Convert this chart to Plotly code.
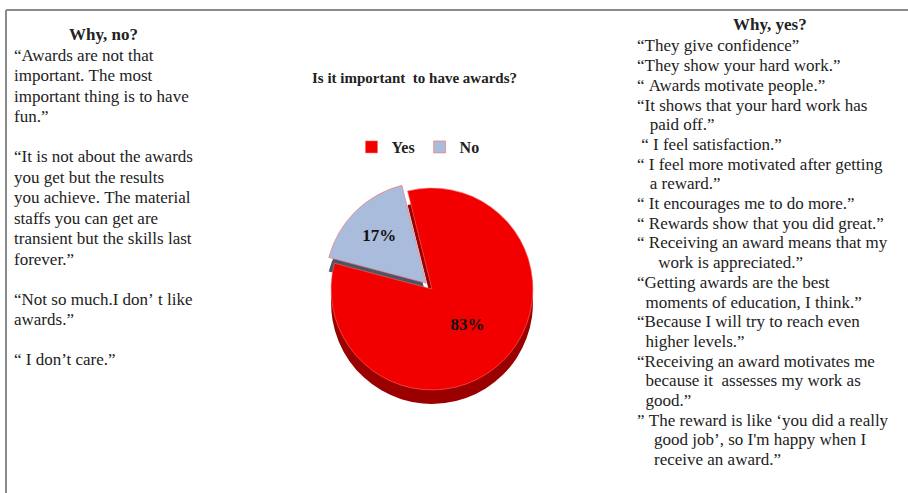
import plotly.graph_objects as go

W, H = 908, 493

# ---- data ----
categories = ["Yes", "No"]
values = [83, 17]
chart_title = "Is it important  to have awards?"

no_title = "Why, no?"
no_lines = [
    "\u201cAwards are not that",
    "important. The most",
    "important thing is to have",
    "fun.\u201d",
    "",
    "\u201cIt is not about the awards",
    "you get but the results",
    "you achieve. The material",
    "staffs you can get are",
    "transient but the skills last",
    "forever.\u201d",
    "",
    "\u201cNot so much.I don\u2019 t like",
    "awards.\u201d",
    "",
    "\u201c I don\u2019t care.\u201d",
]

yes_title = "Why, yes?"
yes_lines = [
    "\u201cThey give confidence\u201d",
    "\u201cThey show your hard work.\u201d",
    "\u201c Awards motivate people.\u201d",
    "\u201cIt shows that your hard work has",
    "   paid off.\u201d",
    " \u201c I feel satisfaction.\u201d",
    "\u201c I feel more motivated after getting",
    "   a reward.\u201d",
    "\u201c It encourages me to do more.\u201d",
    "\u201c Rewards show that you did great.\u201d",
    "\u201c Receiving an award means that my",
    "     work is appreciated.\u201d",
    "\u201cGetting awards are the best",
    "  moments of education, I think.\u201d",
    "\u201cBecause I will try to reach even",
    "  higher levels.\u201d",
    "\u201cReceiving an award motivates me",
    "  because it  assesses my work as",
    "  good.\u201d",
    "\u201d The reward is like \u2018you did a really",
    "    good job\u2019, so I'm happy when I",
    "    receive an award.\u201d",
]

SERIF = "Liberation Serif, Times New Roman, serif"
TXT = "#222222"


def px(x):
    return x / W


def py(y):
    return 1 - y / H


fig = go.Figure()

# depth layer (darker, offset) to suggest the 3-D pie
fig.add_trace(go.Pie(
    labels=categories, values=values, sort=False, direction="clockwise",
    rotation=-14, pull=[0, 0.08],
    marker=dict(colors=["#9A0000", "#4A5566"], line=dict(width=0)),
    textinfo="none", hoverinfo="skip", showlegend=False,
    domain=dict(x=[px(322), px(542)], y=[py(412), py(194)]),
))

# top surface
fig.add_trace(go.Pie(
    labels=categories, values=values, sort=False, direction="clockwise",
    rotation=-14, pull=[0, 0.08],
    marker=dict(colors=["#F20000", "#A9BCDB"], line=dict(width=0.6, color="#ff6a6a")),
    textinfo="percent", textposition="inside", insidetextorientation="horizontal",
    textfont=dict(family=SERIF, size=17, color="#111111", weight="bold"),
    hoverinfo="skip",
    domain=dict(x=[px(322), px(542)], y=[py(398), py(180)]),
))

ann = []
# chart title
ann.append(dict(text=chart_title, x=px(414), y=py(78), xref="paper", yref="paper",
                showarrow=False, xanchor="center", yanchor="middle",
                font=dict(family=SERIF, size=15, color=TXT, weight="bold")))

# left column
ann.append(dict(text=no_title, x=px(103), y=py(34), xref="paper", yref="paper",
                showarrow=False, xanchor="center", yanchor="middle",
                font=dict(family=SERIF, size=17, color=TXT, weight="bold")))
y = 55
for line in no_lines:
    if line:
        ann.append(dict(text=line.replace(" ", "\u00a0"), x=px(12), y=py(y), xref="paper", yref="paper",
                        showarrow=False, xanchor="left", yanchor="middle",
                        font=dict(family=SERIF, size=17, color=TXT)))
    y += 20.5 if line else 19.5

# right column
ann.append(dict(text=yes_title, x=px(770), y=py(24), xref="paper", yref="paper",
                showarrow=False, xanchor="center", yanchor="middle",
                font=dict(family=SERIF, size=17, color=TXT, weight="bold")))
y = 46
for line in yes_lines:
    ann.append(dict(text=line.replace(" ", "\u00a0"), x=px(635), y=py(y), xref="paper", yref="paper",
                    showarrow=False, xanchor="left", yanchor="middle",
                    font=dict(family=SERIF, size=17, color=TXT)))
    y += 19.7

fig.update_layout(
    width=W, height=H,
    margin=dict(l=0, r=0, t=0, b=0),
    paper_bgcolor="white", plot_bgcolor="white",
    annotations=ann,
    showlegend=True,
    legend=dict(orientation="h", x=px(418), xanchor="center", y=py(147), yanchor="middle",
                font=dict(family=SERIF, size=16, color=TXT, weight="bold"),
                itemwidth=30, bgcolor="rgba(0,0,0,0)", traceorder="normal"),
    shapes=[
        dict(type="line", xref="paper", yref="paper", x0=px(6), x1=1, y0=py(10), y1=py(10),
             line=dict(color="#8a8a8a", width=2)),
        dict(type="line", xref="paper", yref="paper", x0=px(6), x1=px(6), y0=py(10), y1=0,
             line=dict(color="#8a8a8a", width=2)),
    ],
)

fig.write_html("out.html", config={"displayModeBar": False},
               post_script="document.body.style.margin='0';document.body.style.padding='0';")
